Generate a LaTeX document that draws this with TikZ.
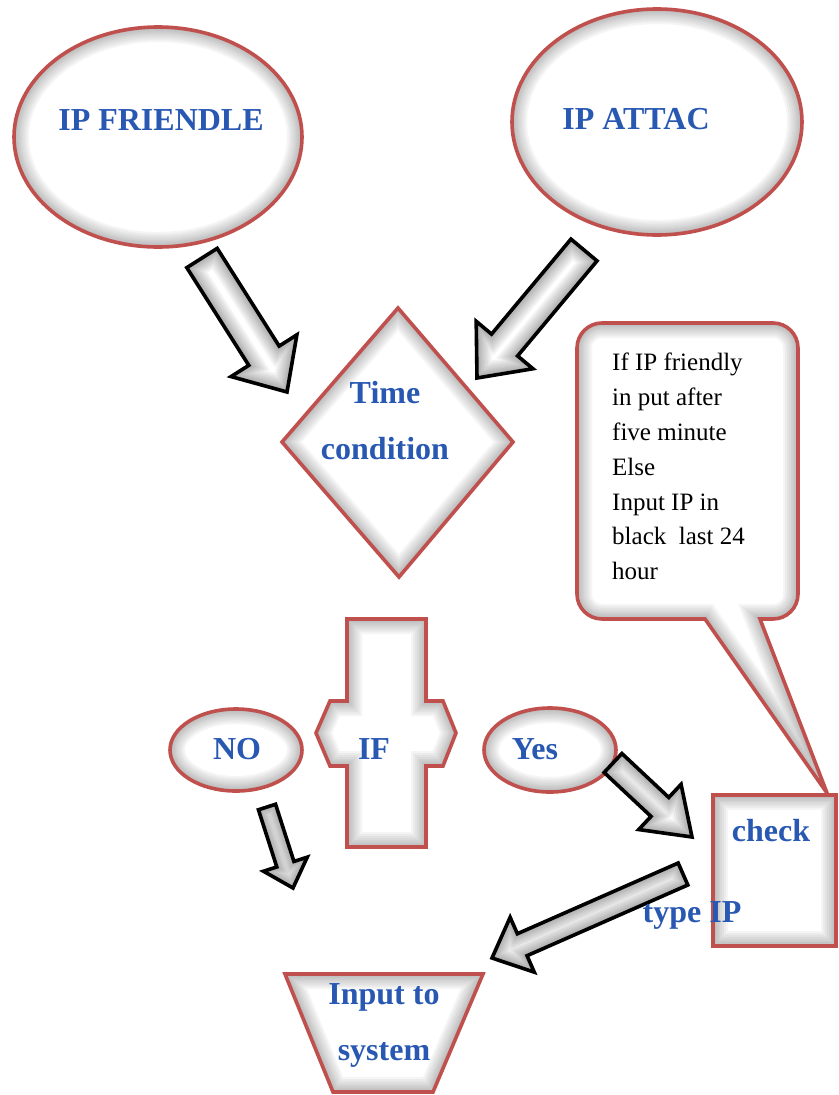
\documentclass[tikz,border=0pt]{standalone}
\usepackage{fontspec}
\setmainfont{Liberation Serif}
\usetikzlibrary{calc}
\definecolor{shred}{HTML}{C0504D}
\definecolor{wordblue}{RGB}{40,88,178}
\tikzset{
  redline/.style={draw=shred, line width=3.6pt, line join=miter},
  arrline/.style={draw=black, line width=3.6pt, line join=miter, miter limit=10},
  bluetext/.style={text=wordblue, font=\fontsize{32}{56}\selectfont\bfseries, inner sep=0pt, align=center},
  notetext/.style={text=black, font=\fontsize{25}{34.8}\selectfont, inner sep=0pt, align=left},
}
\newcommand\glowshape[3]{%
  \fill[white] #3;
  \begin{scope}
    \clip #3;
    \foreach \lw in {30,26,22,18,14,11,8,5,3}{%
      \draw[#2, line width=\lw pt, opacity=0.08] #3;}
  \end{scope}
  \draw[#1] #3;
}
\newcommand\blockarrow[6]{%
  \coordinate (#1h) at ($(#3)!#6pt!(#2)$);
  \glowshape{arrline}{black!60}{($(#2)!#4pt!90:(#3)$) -- ($(#1h)!#4pt!90:(#3)$) -- ($(#1h)!#5pt!90:(#3)$) -- (#3) -- ($(#1h)!#5pt!-90:(#3)$) -- ($(#1h)!#4pt!-90:(#3)$) -- ($(#2)!#4pt!-90:(#3)$) -- cycle}%
}
\begin{document}
\begin{tikzpicture}[x=1pt, y=-1pt]
\useasboundingbox (0,0) rectangle (838,1095);
\fill[white] (0,0) rectangle (838,1095);

% top ellipses
\glowshape{redline}{black!50}{(158,137) ellipse [x radius=144, y radius=110]}
\node[bluetext, anchor=base] (friendle) at (161,130) {IP FRIENDLE};
\glowshape{redline}{black!50}{(657,122) ellipse [x radius=145, y radius=113]}
\node[bluetext, anchor=base] (attac) at (636,129) {IP ATTAC};

% diamond
\glowshape{redline}{black!50}{(398,308) -- (513,442) -- (399,577) -- (282,442) -- cycle}
\node[bluetext, anchor=base] (time) at (385,459) {Time\\condition};

% callout
\glowshape{redline}{black!50}{(705,619) -- (827,793) -- (760,619) -- (773,619) .. controls (786.8,619) and (798,607.8) .. (798,594) -- (798,348) .. controls (798,334.2) and (786.8,323) .. (773,323) -- (602,323) .. controls (588.2,323) and (577,334.2) .. (577,348) -- (577,594) .. controls (577,607.8) and (588.2,619) .. (602,619) -- cycle}
\node[notetext, anchor=north west] (note) at (612,353) {If IP friendly\\in put after\\five minute\\Else\\Input IP in\\black\ \ last 24\\hour};

% IF shape
\glowshape{redline}{black!50}{(347,619) -- (426,619) -- (426,701) -- (443,701) -- (456,733) -- (443,766) -- (426,766) -- (426,847) -- (347,847) -- (347,766) -- (330,766) -- (316,733) -- (330,701) -- (347,701) -- cycle}
\node[bluetext, anchor=base] (ifnode) at (374,759) {IF};

% NO / Yes
\glowshape{redline}{black!50}{(236,750) ellipse [x radius=66, y radius=41]}
\node[bluetext, anchor=base] (no) at (237,759) {NO};
\glowshape{redline}{black!50}{(550,750) ellipse [x radius=66, y radius=42]}
\node[bluetext, anchor=base] (yes) at (535,759) {Yes};

% check box
\glowshape{redline}{black!50}{(713,795) rectangle (836,946)}
\node[bluetext, anchor=base] (check) at (771,841) {check};

% trapezoid
\glowshape{redline}{black!50}{(285,974) -- (483,974) -- (433,1092) -- (333,1092) -- cycle}
\node[bluetext, anchor=base] (input) at (384,1060) {Input to\\system};

% arrow end points
\coordinate (a1s) at (202,258); \coordinate (a1e) at (287,392);
\coordinate (a2s) at (584,250); \coordinate (a2e) at (477,378);
\coordinate (a3s) at (613,763); \coordinate (a3e) at (692,837);
\coordinate (a4s) at (683,874); \coordinate (a4e) at (492,958);
\coordinate (a5s) at (267,807); \coordinate (a5e) at (293,888);

\blockarrow{a1}{a1s}{a1e}{18}{39}{43}
\blockarrow{a2}{a2s}{a2e}{17}{37}{43}
\blockarrow{a3}{a3s}{a3e}{13}{31}{44}
\blockarrow{a4}{a4s}{a4e}{12}{30}{33}
\blockarrow{a5}{a5s}{a5e}{9}{23}{25}

\node[bluetext, anchor=base] (typeip) at (692,922) {type IP};
\end{tikzpicture}
\end{document}
